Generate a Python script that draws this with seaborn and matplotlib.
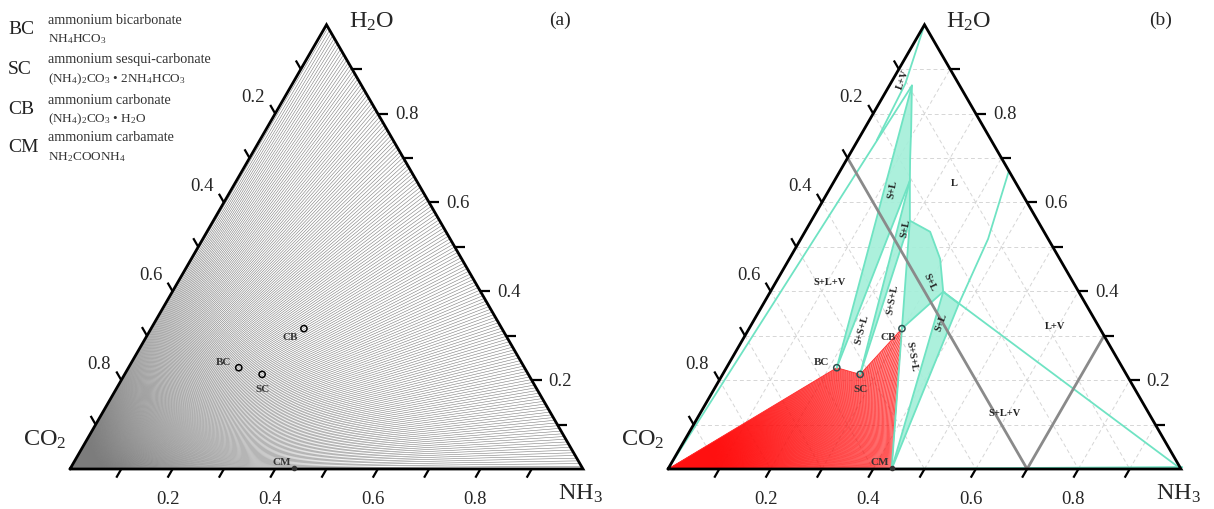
import numpy as np
import pandas as pd
import matplotlib
matplotlib.use("Agg")
import matplotlib.pyplot as plt
import seaborn as sns
from matplotlib.collections import LineCollection
from matplotlib.patches import Polygon

sns.set_theme(style="white")
plt.rcParams['font.family'] = ['Liberation Serif', 'DejaVu Serif']
plt.rcParams['mathtext.fontset'] = 'custom'
plt.rcParams['mathtext.rm'] = 'Liberation Serif'
plt.rcParams['mathtext.it'] = 'Liberation Serif:italic'
plt.rcParams['mathtext.bf'] = 'Liberation Serif:bold'

# ---------------- data (ternary: NH3 fraction, H2O fraction) ----------------
compounds = ["BC", "SC", "CB", "CM"]
comp_nh3 = [0.215, 0.268, 0.298, 0.436]
comp_h2o = [0.228, 0.213, 0.316, 0.0]

tick_values = [0.1, 0.2, 0.3, 0.4, 0.5, 0.6, 0.7, 0.8, 0.9]
tick_labels = {0.2: "0.2", 0.4: "0.4", 0.6: "0.6", 0.8: "0.8"}

legend_codes = ["BC", "SC", "CB", "CM"]
legend_names = ["ammonium bicarbonate", "ammonium sesqui-carbonate",
                "ammonium carbonate", "ammonium carbamate"]
legend_formulas = [r"NH$_4$HCO$_3$", r"(NH$_4$)$_2$CO$_3$ • 2NH$_4$HCO$_3$",
                   r"(NH$_4$)$_2$CO$_3$ • H$_2$O", r"NH$_2$COONH$_4$"]

# phase-diagram key points (NH3, H2O)
liq_nh3 = [0.044, 0.091, 0.123, 0.147, 0.192, 0.244, 0.294, 0.337, 0.381]
liq_h2o = [0.863, 0.766, 0.698, 0.649, 0.559, 0.534, 0.473, 0.399, 0.372]
# indices in liquid curve: P=0, Q1=3, Q2=4, Q3=7, Q4=8
lv_top_nh3 = [0.0, 0.029, 0.037]
lv_top_h2o = [1.0, 0.867, 0.74]
lv_right_nh3 = [0.381, 0.365, 0.329]
lv_right_h2o = [0.372, 0.518, 0.671]
grey_lines = {"CO2=0.3": ([0.0, 0.7], [0.7, 0.0]),
              "NH3=0.7": ([0.7, 0.7], [0.0, 0.3])}

region_labels = [("L+V", 0.019, 0.878, 70), ("L", 0.236, 0.646, 0),
                 ("S+L", 0.123, 0.631, 80), ("S+L", 0.19, 0.545, 80),
                 ("S+L+V", 0.105, 0.421, 0), ("S+S+L", 0.22, 0.315, 75),
                 ("S+S+L", 0.247, 0.383, 80), ("S+L", 0.299, 0.423, -65),
                 ("S+L", 0.367, 0.333, 70), ("S+S+L", 0.348, 0.2545, -80),
                 ("L+V", 0.593, 0.322, 0), ("S+L+V", 0.593, 0.128, 0)]

# ---------------- helpers ----------------
S = np.sqrt(3) / 2
PX = 513.0  # pixels per unit


def tern(n, h):
    n = np.asarray(n, float)
    h = np.asarray(h, float)
    return n + h / 2, h * S


W, H = 1214, 510
fig = plt.figure(figsize=(W / 100, H / 100), dpi=100)


def make_ax(x0_px, left_px, width_px):
    ax = fig.add_axes([left_px / W, 0, width_px / W, 1])
    ax.set_xlim((left_px - x0_px) / PX, (left_px + width_px - x0_px) / PX)
    ax.set_ylim((470 - 510) / PX, 470 / PX)
    ax.set_axis_off()
    return ax


axL = make_ax(70, 0, 607)
axR = make_ax(668, 607, 607)

LINE_CYAN = "#6fe3c3"
FILL_CYAN = "#a3efd9"


def draw_frame(ax):
    xs, ys = tern([0, 1, 0, 0], [0, 0, 1, 0])
    ax.plot(xs, ys, color="black", lw=2.0, zorder=6, solid_joinstyle="miter")
    L = 10 / PX
    segs = []
    for t in tick_values:
        bx, by = tern(t, 0)
        segs.append([(bx, by), (bx - 0.5 * L, by - S * L)])
        rx, ry = tern(1 - t, t)
        segs.append([(rx, ry), (rx + L, ry)])
        lx, ly = tern(0, 1 - t)
        segs.append([(lx, ly), (lx - 0.5 * L, ly + S * L)])
        if t in tick_labels:
            lab = tick_labels[t]
            ax.text(bx - 5 / PX, by - 30 / PX, lab, ha="center", va="center",
                    fontsize=13.5, zorder=7)
            ax.text(rx + 17 / PX, ry, lab, ha="left", va="center",
                    fontsize=13.5, zorder=7)
            ax.text(lx - 22 / PX, ly + 17 / PX, lab, ha="center", va="center",
                    fontsize=13.5, zorder=7)
    ax.add_collection(LineCollection(segs, colors="black", linewidths=1.6, zorder=6))
    ax.text(0.5 + 22 / PX, S + 4 / PX, r"H$_2$O", ha="left", va="center", fontsize=17.5)
    ax.text(-3 / PX, 30 / PX, r"CO$_2$", ha="right", va="center", fontsize=17.5)
    ax.text(1 - 3 / PX, -24 / PX, r"NH$_3$", ha="center", va="center", fontsize=17.5)


def draw_compounds(ax, edge):
    xs, ys = tern(comp_nh3, comp_h2o)
    df = pd.DataFrame({"x": xs[:3], "y": ys[:3]})
    sns.scatterplot(data=df, x="x", y="y", ax=ax, s=20, marker="o",
                    facecolor="none", edgecolor=edge, linewidth=1.1, zorder=8,
                    legend=False)
    ax.plot(xs[3], ys[3] + 1 / PX, "o", ms=3, color="#333333", zorder=8)
    offs = {"BC": (-15, 6), "SC": (0, -14), "CB": (-14, -8), "CM": (-12, 7)}
    for name, x, y in zip(compounds, xs, ys):
        dx, dy = offs[name]
        ax.text(x + dx / PX, y + dy / PX, name, ha="center", va="center",
                fontsize=8, fontweight="bold", color="#333333", zorder=8)
    ax.set_xlabel("")
    ax.set_ylabel("")


# ---------------- panel (a) ----------------
s_vals = np.linspace(0, 1, 165)
ex, ey = tern(1 - s_vals, s_vals)
fan = [[(0, 0), (a, b)] for a, b in zip(ex, ey)]
axL.add_collection(LineCollection(fan, colors="#7c7c7c", linewidths=0.4, zorder=1))
draw_frame(axL)
draw_compounds(axL, "black")
axL.text(1 - 23 / PX, S + 5 / PX, "(a)", ha="center", va="center", fontsize=14)

# ---------------- panel (b) ----------------
grid = []
for k in range(1, 10):
    t = k / 10
    grid.append(list(zip(*tern([0, 1 - t], [t, t]))))
    grid.append(list(zip(*tern([t, t], [0, 1 - t]))))
    grid.append(list(zip(*tern([0, 1 - t], [1 - t, 0]))))
axR.add_collection(LineCollection(grid, colors="#d6d6d6", linewidths=0.7,
                                  linestyles=(0, (4, 3)), zorder=0.5))

# red region: CO2 corner, BC, SC, CB, CM  (fan of rays clipped to region)
bx, by = tern(comp_nh3, comp_h2o)
red_xy = np.column_stack([np.r_[0.0, bx], np.r_[0.0, by]])
red_patch = Polygon(red_xy, closed=True, facecolor="none", edgecolor="#ff3030",
                    lw=0.6, zorder=2.6)
axR.add_patch(red_patch)
amax = np.arctan2(by, bx).max() + 0.01
angs = np.linspace(0, amax, 125)
rays = [[(0, 0), (0.7 * np.cos(a), 0.7 * np.sin(a))] for a in angs]
red_lc = LineCollection(rays, colors="#ff1010", linewidths=0.5, zorder=2.5)
axR.add_collection(red_lc)
red_lc.set_clip_path(red_patch)

liq = list(zip(liq_nh3, liq_h2o))
BC, SC, CB, CM = [(comp_nh3[i], comp_h2o[i]) for i in range(4)]


def poly(ax, pts):
    xs, ys = tern([p[0] for p in pts], [p[1] for p in pts])
    ax.add_patch(Polygon(np.column_stack([xs, ys]), closed=True,
                         facecolor=FILL_CYAN, edgecolor="none", alpha=0.9, zorder=2))


poly(axR, [BC] + liq[0:4])
poly(axR, [SC, liq[3], liq[4]])
poly(axR, [CB] + liq[4:8])
poly(axR, [CM, liq[7], liq[8]])


def cline(ax, pts, lw=1.3):
    xs, ys = tern([p[0] for p in pts], [p[1] for p in pts])
    ax.plot(xs, ys, color=LINE_CYAN, lw=lw, zorder=3, solid_capstyle="round")


cline(axR, [(0, 0), liq[0]])
cline(axR, list(zip(lv_top_nh3, lv_top_h2o)))
cline(axR, liq)
for a, b in [(BC, liq[0]), (BC, liq[3]), (SC, liq[3]), (SC, liq[4]),
             (CB, liq[4]), (CB, liq[7]), (CM, liq[7]), (CM, liq[8]), (CB, CM)]:
    cline(axR, [a, b])
cline(axR, [liq[7], (1.0, 0.0)])
cline(axR, list(zip(lv_right_nh3, lv_right_h2o)))
cline(axR, [CM, (1.0, 0.004)], lw=1.6)

for name, (gn, gh) in grey_lines.items():
    gx, gy = tern(gn, gh)
    sns.lineplot(x=gx, y=gy, ax=axR, sort=False, estimator=None, color="#8a8a8a",
                 lw=2.0, zorder=4)
axR.set_xlabel("")
axR.set_ylabel("")

for lab, n, h, rot in region_labels:
    x, y = tern(n, h)
    axR.text(x, y, lab, ha="center", va="center", rotation=rot, fontsize=7.5,
             fontweight="bold", color="#222222", zorder=7)

draw_frame(axR)
draw_compounds(axR, "#2f4f4f")
axR.text(1 - 23 / PX + 0.005, S + 5 / PX, "(b)", ha="center", va="center", fontsize=14)

# ---------------- legend text (top-left) ----------------
ys_code = [30, 70, 110, 148]
for code, name, formula, yc in zip(legend_codes, legend_names, legend_formulas, ys_code):
    fig.text(8 / W, 1 - yc / H, code, ha="left", va="center", fontsize=14, color="#222222")
    fig.text(48 / W, 1 - (yc - 10) / H, name, ha="left", va="center", fontsize=10.2,
             color="#333333")
    fig.text(48 / W, 1 - (yc + 9) / H, formula, ha="left", va="center", fontsize=9.5,
             color="#333333")

fig.savefig("out.png", dpi=100)
